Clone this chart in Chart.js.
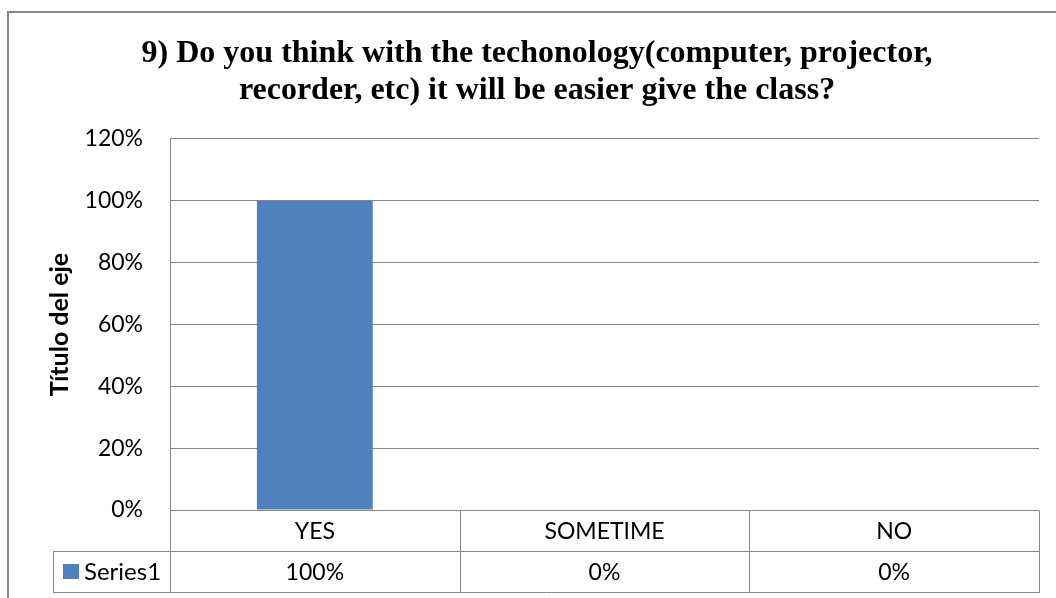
<!DOCTYPE html>
<html><head><meta charset="utf-8">
<script src="https://cdn.jsdelivr.net/npm/chart.js@4/dist/chart.umd.min.js"></script>
<style>html,body{margin:0;padding:0;background:#fff;overflow:hidden}</style>
</head><body>
<canvas id="c" width="1056" height="598"></canvas>
<script>
const titleLines = ['9) Do you think with the techonology(computer, projector,', 'recorder, etc) it will be easier give the class?'];
const categories = ['YES', 'SOMETIME', 'NO'];
const seriesName = 'Series1';
const seriesValues = [100, 0, 0];
const yTicks = [0, 20, 40, 60, 80, 100, 120];
const axisTitle = 'Título del eje';

const barColor = '#4F81BD';
const lineColor = '#878787';
const bodyFont = 'Lato';

const frame = {
  id: 'frame',
  beforeDraw(chart) {
    const ctx = chart.ctx;
    ctx.save();
    ctx.fillStyle = '#fff';
    ctx.fillRect(0, 0, chart.width, chart.height);
    ctx.strokeStyle = lineColor;
    ctx.lineWidth = 2;
    ctx.strokeRect(8, 12, 1200, 800);
    ctx.restore();
  }
};

const dataTable = {
  id: 'dataTable',
  afterDraw(chart) {
    const { ctx, chartArea, scales } = chart;
    const x = scales.x;
    const top = chartArea.bottom;
    const rowH = 41;
    const tableLeft = 53;
    const right = chartArea.right;
    const n = categories.length;
    const px = v => Math.round(v) + 0.5;
    ctx.save();
    ctx.strokeStyle = lineColor;
    ctx.lineWidth = 1;
    ctx.beginPath();
    ctx.moveTo(tableLeft, px(top + rowH)); ctx.lineTo(right, px(top + rowH));
    ctx.moveTo(tableLeft, px(top + 2 * rowH)); ctx.lineTo(right + 1, px(top + 2 * rowH));
    ctx.moveTo(px(tableLeft), px(top + rowH)); ctx.lineTo(px(tableLeft), px(top + 2 * rowH));
    for (let i = 0; i <= n; i++) {
      const b = chartArea.left + (chartArea.right - chartArea.left) * i / n;
      ctx.moveTo(px(b), px(top)); ctx.lineTo(px(b), px(top + 2 * rowH));
    }
    ctx.stroke();
    ctx.fillStyle = '#000';
    ctx.font = '23px ' + bodyFont;
    ctx.textAlign = 'center';
    ctx.textBaseline = 'middle';
    categories.forEach((c, i) => {
      const cx = x.getPixelForValue(i);
      ctx.fillText(c, cx, top + rowH / 2 + 1);
      ctx.fillText(seriesValues[i] + '%', cx, top + rowH * 1.5 + 1);
    });
    ctx.fillStyle = barColor;
    ctx.fillRect(63, top + rowH + 13, 16, 15);
    ctx.fillStyle = '#000';
    ctx.textAlign = 'left';
    ctx.font = '24px ' + bodyFont;
    ctx.fillText(seriesName, 84, top + rowH * 1.5 + 1);
    ctx.restore();
  }
};

new Chart(document.getElementById('c'), {
  type: 'bar',
  data: {
    labels: categories,
    datasets: [{
      label: seriesName,
      data: seriesValues,
      backgroundColor: barColor,
      borderWidth: 0,
      barPercentage: 0.4,
      categoryPercentage: 1.0
    }]
  },
  options: {
    responsive: false,
    animation: false,
    devicePixelRatio: 1,
    layout: { padding: { left: 18, right: 0, top: 0, bottom: 88 } },
    plugins: {
      legend: { display: false },
      tooltip: { enabled: false },
      title: {
        display: true,
        text: titleLines,
        color: '#000',
        font: { family: 'Liberation Serif', size: 32, weight: 'bold', lineHeight: 1.156 },
        padding: { top: 35, bottom: 30 }
      }
    },
    scales: {
      x: { display: false },
      y: {
        position: 'left',
        min: 0,
        max: 120,
        afterBuildTicks(s) { s.ticks = yTicks.map(v => ({ value: v })); },
        ticks: {
          color: '#000',
          font: { family: bodyFont, size: 23 },
          padding: 27,
          callback: v => v + '%'
        },
        grid: { color: lineColor, lineWidth: 1, drawTicks: false },
        border: { display: true, color: lineColor, width: 1 },
        title: {
          display: true,
          text: axisTitle,
          color: '#000',
          font: { family: bodyFont, size: 25, weight: 'bold' },
          padding: { top: 27, bottom: 0 }
        },
        afterFit(s) { s.width = 152; }
      },
      yR: {
        position: 'right',
        display: true,
        grid: { display: false, drawTicks: false },
        border: { display: false },
        ticks: { display: false },
        afterFit(s) { s.width = 17; }
      }
    }
  },
  plugins: [frame, dataTable]
});
</script>
</body></html>
